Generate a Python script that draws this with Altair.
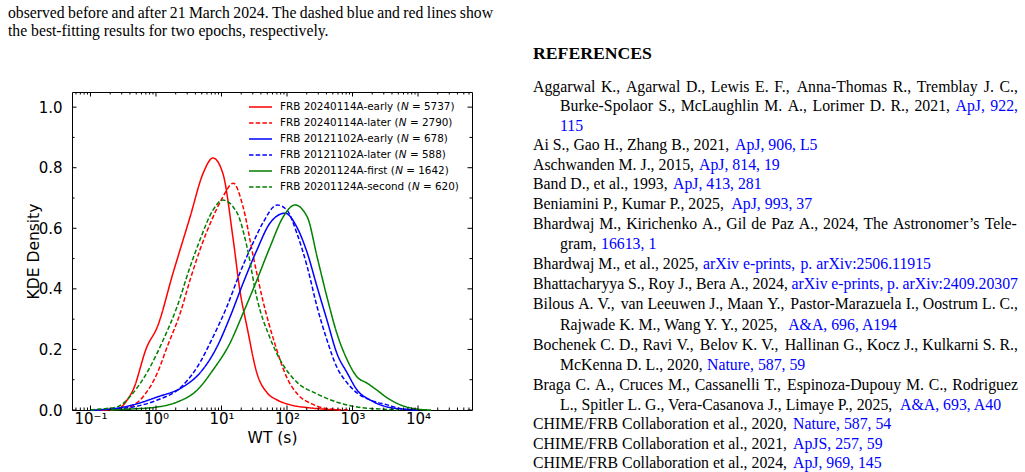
import altair as alt
import pandas as pd

# ---------------------------------------------------------------------------
# Kernel-density curves of burst waiting times, sampled in log10(WT / s)
# ---------------------------------------------------------------------------
SERIES = [
    "FRB 20240114A-early", "FRB 20240114A-later",
    "FRB 20121102A-early", "FRB 20121102A-later",
    "FRB 20201124A-first", "FRB 20201124A-second",
]
COUNTS = [5737, 2790, 678, 588, 1642, 620]

a_early_logwt = [-0.90, -0.70, -0.55, -0.44, -0.35, -0.14, 0.02, 0.26, 0.52, 0.72,
                 0.87, 1.02, 1.18, 1.28, 1.39, 1.54, 1.70, 1.85, 2.05, 2.35, 2.81]
a_early_kde = [0.0, 0.001, 0.007, 0.033, 0.066, 0.208, 0.274, 0.452, 0.637, 0.782,
               0.832, 0.782, 0.561, 0.396, 0.274, 0.122, 0.056, 0.033, 0.017, 0.007, 0.0]

a_later_logwt = [-0.80, -0.55, -0.40, -0.20, 0.02, 0.17, 0.37, 0.52, 0.67, 0.87, 1.02,
                 1.18, 1.33, 1.48, 1.63, 1.82, 2.00, 2.17, 2.38, 2.66, 2.95]
a_later_kde = [0.0, 0.003, 0.010, 0.043, 0.122, 0.208, 0.320, 0.429, 0.528, 0.637, 0.703,
               0.749, 0.670, 0.512, 0.363, 0.215, 0.106, 0.050, 0.020, 0.003, 0.0]

b_early_logwt = [-1.00, -0.70, -0.35, 0.02, 0.41, 0.67, 0.93, 1.13, 1.33, 1.54, 1.74,
                 1.97, 2.15, 2.31, 2.46, 2.61, 2.76, 2.92, 3.07, 3.27, 3.53, 3.77, 4.00]
b_early_kde = [0.0, 0.003, 0.017, 0.043, 0.076, 0.122, 0.208, 0.307, 0.419, 0.528, 0.617,
               0.650, 0.604, 0.518, 0.406, 0.297, 0.188, 0.122, 0.066, 0.033, 0.010, 0.003, 0.0]

b_later_logwt = [-1.00, -0.66, -0.35, 0.02, 0.37, 0.63, 0.87, 1.08, 1.28, 1.48, 1.63, 1.85,
                 2.00, 2.15, 2.31, 2.46, 2.61, 2.76, 2.92, 3.07, 3.27, 3.53, 3.77, 4.00]
b_later_kde = [0.0, 0.003, 0.010, 0.033, 0.073, 0.142, 0.241, 0.340, 0.452, 0.551, 0.617, 0.677,
               0.660, 0.584, 0.472, 0.340, 0.231, 0.142, 0.089, 0.056, 0.033, 0.017, 0.003, 0.0]

c_first_logwt = [-0.70, -0.40, 0.02, 0.32, 0.63, 0.87, 1.13, 1.33, 1.54, 1.74, 1.94, 2.12,
                 2.31, 2.46, 2.61, 2.76, 2.92, 3.07, 3.22, 3.37, 3.53, 3.73, 3.99, 4.20]
c_first_kde = [0.0, 0.003, 0.010, 0.026, 0.066, 0.132, 0.221, 0.320, 0.429, 0.538, 0.637, 0.677,
               0.637, 0.505, 0.373, 0.254, 0.165, 0.109, 0.089, 0.066, 0.040, 0.017, 0.003, 0.0]

c_second_logwt = [-1.00, -0.86, -0.60, -0.35, -0.09, 0.11, 0.32, 0.52, 0.67, 0.87, 1.02,
                  1.24, 1.39, 1.54, 1.74, 1.94, 2.15, 2.46, 2.76, 3.07, 3.42, 3.70]
c_second_kde = [0.0, 0.003, 0.010, 0.056, 0.142, 0.231, 0.340, 0.472, 0.561, 0.660, 0.693,
                0.650, 0.538, 0.370, 0.238, 0.149, 0.092, 0.053, 0.026, 0.010, 0.003, 0.0]

CURVES = [
    (a_early_logwt, a_early_kde), (a_later_logwt, a_later_kde),
    (b_early_logwt, b_early_kde), (b_later_logwt, b_later_kde),
    (c_first_logwt, c_first_kde), (c_second_logwt, c_second_kde),
]

X_TICKS = [0.1, 1, 10, 100, 1000, 10000]
X_TICK_LABELS = ["10⁻¹", "10⁰", "10¹", "10²", "10³", "10⁴"]
Y_TICKS = [0.0, 0.2, 0.4, 0.6, 0.8, 1.0]
Y_MINOR = [0.1, 0.3, 0.5, 0.7, 0.9]

# ---------------------------------------------------------------------------
# Page text around the figure
# ---------------------------------------------------------------------------
CAPTION = [
    "observed before and after 21 March 2024. The dashed blue and red lines show",
    "the best-fitting results for two epochs, respectively.",
]
CAPTION_JUSTIFIED = [True, False]
HEADING = "REFERENCES"
# each line: (plain text, linked text); '|' separates separately anchored link pieces
REF_TEXT = [
    ("Aggarwal K., Agarwal D., Lewis E. F., Anna-Thomas R., Tremblay J. C.,", ""),
    ("Burke-Spolaor S., McLaughlin M. A., Lorimer D. R., 2021,", "ApJ, 922,"),
    ("", "115"),
    ("Ai S., Gao H., Zhang B., 2021,", "ApJ, 906, L5"),
    ("Aschwanden M. J., 2015,", "ApJ, 814, 19"),
    ("Band D., et al., 1993,", "ApJ, 413, 281"),
    ("Beniamini P., Kumar P., 2025,", "ApJ, 993, 37"),
    ("Bhardwaj M., Kirichenko A., Gil de Paz A., 2024, The Astronomer’s Tele-", ""),
    ("gram,", "16613, 1"),
    ("Bhardwaj M., et al., 2025,", "arXiv e-prints,|p. arXiv:2506.11915"),
    ("Bhattacharyya S., Roy J., Bera A., 2024,", "arXiv e-prints, p. arXiv:2409.20307"),
    ("Bilous A. V., van Leeuwen J., Maan Y., Pastor-Marazuela I., Oostrum L. C.,", ""),
    ("Rajwade K. M., Wang Y. Y., 2025,", "A&A, 696, A194"),
    ("Bochenek C. D., Ravi V., Belov K. V., Hallinan G., Kocz J., Kulkarni S. R.,", ""),
    ("McKenna D. L., 2020,", "Nature, 587, 59"),
    ("Braga C. A., Cruces M., Cassanelli T., Espinoza-Dupouy M. C., Rodriguez", ""),
    ("L., Spitler L. G., Vera-Casanova J., Limaye P., 2025,", "A&A, 693, A40"),
    ("CHIME/FRB Collaboration et al., 2020,", "Nature, 587, 54"),
    ("CHIME/FRB Collaboration et al., 2021,", "ApJS, 257, 59"),
    ("CHIME/FRB Collaboration et al., 2024,", "ApJ, 969, 145"),
]
REF_JUSTIFIED = [True, True, False, False, False, False, False, True, False, False,
                 True, True, False, True, False, True, False, False, False, False]
REF_INDENTED = [False, True, True, False, False, False, False, False, True, False,
                False, False, True, False, True, False, True, False, False, False]

# ---------------------------------------------------------------------------
# Layout (pixels)
# ---------------------------------------------------------------------------
PAGE_W, PAGE_H = 1025, 472
OX, OY = 72, 92          # top-left corner of the plot frame on the page
W, H = 400, 318          # plot frame size
X_DOMAIN = [10 ** -1.282, 10 ** 4.824]
Y_DOMAIN = [0, 1.05]

CAP_X, CAP_RIGHT = 8, 493
CAP_BASE = [17.5, 36]
COL_X, INDENT_X, COL_RIGHT = 533, 560, 1018
HEAD_BASE = 59
REF_BASE = [92, 111, 130.5, 150, 169.5, 189, 209, 229, 249, 269, 289, 309,
            329.5, 350, 370, 390, 409.5, 429, 449, 468]
# anchor (x, align) of each linked piece on non-justified lines
LINK_ANCHORS = [
    [], [], [(560, "left")], [(735, "left")], [(699, "left")], [(673, "left")],
    [(729, "left")], [], [(601, "left")], [(703, "left"), (931, "right")],
    [], [], [(784, "left")], [], [(707, "left")], [],
    [(898, "left")], [(793, "left")], [(793, "left")], [(793, "left")],
]

SERIF = "Liberation Serif"
SANS = "DejaVu Sans"
BODY_SIZE = 15.8
CAPTION_SIZE = 15.7
LINK_BLUE = "#0000ff"

COLORS = ["#ff0000", "#ff0000", "#0000ff", "#0000ff", "#008000", "#008000"]
DASHES = [[1, 0], [4.5, 2.2], [1, 0], [4.5, 2.2], [1, 0], [4.5, 2.2]]

# Times-compatible advance widths (per 1000 em), used to justify full lines
SERIF_ADV = dict(zip("ABCDEFGHIJKLMNOPQRSTUVWXYZ",
                     [722, 667, 667, 722, 611, 556, 722, 722, 333, 389, 722, 611, 889,
                      722, 722, 556, 722, 667, 556, 611, 722, 722, 944, 722, 722, 611]))
SERIF_ADV.update(zip("abcdefghijklmnopqrstuvwxyz",
                     [444, 500, 444, 500, 444, 333, 500, 500, 278, 278, 500, 278, 778,
                      500, 500, 500, 500, 333, 389, 278, 500, 500, 722, 500, 500, 444]))
SERIF_ADV.update({" ": 250, ",": 250, ".": 250, "-": 333, "’": 333, "/": 278,
                  "&": 778, ":": 278})
SERIF_ADV.update({d: 500 for d in "0123456789"})


def serif_width(s, size):
    return sum(SERIF_ADV.get(ch, 500) for ch in s) / 1000 * size


def justify(words, x0, x1, size):
    widths = [serif_width(w, size) for w in words]
    gap = (x1 - x0 - sum(widths)) / max(len(words) - 1, 1)
    xs, x = [], x0
    for w in widths:
        xs.append(x)
        x += w + gap
    return xs


# ---------------------------------------------------------------------------
# Data frames
# ---------------------------------------------------------------------------
rows = []
for name, (lx, ky) in zip(SERIES, CURVES):
    for lv, kv in zip(lx, ky):
        rows.append({"series": name, "wt": 10 ** lv, "density": kv})
curve_df = pd.DataFrame(rows)

x_minor = [k * 10.0 ** n for n in range(-2, 5) for k in range(2, 10)
           if X_DOMAIN[0] <= k * 10.0 ** n <= X_DOMAIN[1]]

# ---------------------------------------------------------------------------
# Scales and axes
# ---------------------------------------------------------------------------
x_scale = alt.Scale(type="log", domain=X_DOMAIN, nice=False)
y_scale = alt.Scale(domain=Y_DOMAIN, nice=False, zero=False)

label_expr = f"'{X_TICK_LABELS[-1]}'"
for v, lab in reversed(list(zip(X_TICKS[:-1], X_TICK_LABELS[:-1]))):
    label_expr = f"datum.value < {v * 3} ? '{lab}' : ({label_expr})"

x_axis = alt.Axis(
    values=X_TICKS, labelExpr=label_expr, tickSize=0, domain=False, grid=False,
    labelFont=SANS, labelFontSize=15, labelColor="black", labelPadding=1,
    labelFlush=False, labelOverlap=False, labelBound=False,
    title="WT (s)", titleFont=SANS, titleFontSize=15.5, titleFontWeight="normal",
    titleColor="black", titleBaseline="alphabetic", titleX=W / 2, titleY=32.5,
    titleAlign="center",
)
y_axis = alt.Axis(
    values=Y_TICKS, format=".1f", tickSize=0, domain=False, grid=False,
    labelFont=SANS, labelFontSize=15, labelColor="black", labelPadding=10,
    labelOverlap=False, labelFlush=False,
    title="KDE Density", titleFont=SANS, titleFontSize=15.5, titleFontWeight="normal",
    titleColor="black", titleAngle=270, titleX=33.7 - OX, titleY=H / 2,
    titleAlign="center", titleBaseline="middle",
)

X = alt.X("wt:Q", scale=x_scale, axis=x_axis)
Y = alt.Y("density:Q", scale=y_scale, axis=y_axis)

color_enc = alt.Color("series:N", scale=alt.Scale(domain=SERIES, range=COLORS), legend=None)
dash_enc = alt.StrokeDash("series:N", scale=alt.Scale(domain=SERIES, range=DASHES), legend=None)

curves = alt.Chart(curve_df).mark_line(strokeWidth=1.5, interpolate="monotone").encode(
    x=X, y=Y, color=color_enc, strokeDash=dash_enc,
)

# inward-pointing ticks on all four sides of the frame
MAJOR_LEN, MINOR_LEN = 4.5, 2.5


def x_ticks(values, length, top):
    ys = (alt.value(0), alt.value(length)) if top else (alt.value(H), alt.value(H - length))
    return alt.Chart(pd.DataFrame({"wt": values})).mark_rule(
        color="black", strokeWidth=1).encode(x=X, y=ys[0], y2=ys[1])


def y_ticks(values, length, right):
    xs = (alt.value(W), alt.value(W - length)) if right else (alt.value(0), alt.value(length))
    return alt.Chart(pd.DataFrame({"density": values})).mark_rule(
        color="black", strokeWidth=1).encode(y=Y, x=xs[0], x2=xs[1])


tick_layers = [
    x_ticks(X_TICKS, MAJOR_LEN, False), x_ticks(X_TICKS, MAJOR_LEN, True),
    x_ticks(x_minor, MINOR_LEN, False), x_ticks(x_minor, MINOR_LEN, True),
    y_ticks(Y_TICKS, MAJOR_LEN, False), y_ticks(Y_TICKS, MAJOR_LEN, True),
    y_ticks(Y_MINOR, MINOR_LEN, False), y_ticks(Y_MINOR, MINOR_LEN, True),
]

# ---------------------------------------------------------------------------
# Legend (drawn by hand so that N can be set in italics)
# ---------------------------------------------------------------------------
LEG_FONT = 10.4
LEG_LINE_X = (249 - OX, 272 - OX)
LEG_TEXT_X = 280 - OX
LEG_ROW_Y = [107 - OY + 16 * i for i in range(len(SERIES))]

# DejaVu Sans advance widths (font units per 2048 em)
SANS_ADV = {" ": 651, "(": 799, ")": 799, "-": 739, "=": 1716, "A": 1401, "B": 1405,
            "F": 1178, "N": 1532, "R": 1423, "a": 1255, "c": 1126, "d": 1300, "e": 1260,
            "f": 721, "i": 569, "l": 569, "n": 1298, "o": 1253, "r": 842, "s": 1067,
            "t": 803, "y": 1212}


def sans_width(s, size):
    return sum(SANS_ADV.get(ch, 1303) for ch in s) / 2048 * size


leg_lines, leg_plain, leg_italic = [], [], []
for name, n, ly in zip(SERIES, COUNTS, LEG_ROW_Y):
    prefix = f"{name} ("
    x_n = LEG_TEXT_X + sans_width(prefix, LEG_FONT)
    x_rest = x_n + sans_width("N ", LEG_FONT)
    leg_lines.append({"series": name, "lx": LEG_LINE_X[0], "lx2": LEG_LINE_X[1], "ly": ly})
    leg_plain.append({"t": prefix, "px": LEG_TEXT_X, "py": ly})
    leg_plain.append({"t": f"= {n})", "px": x_rest, "py": ly})
    leg_italic.append({"t": "N", "px": x_n, "py": ly})

legend_lines = alt.Chart(pd.DataFrame(leg_lines)).mark_rule(strokeWidth=1.5).encode(
    x=alt.X("lx:Q", scale=None), x2="lx2:Q", y=alt.Y("ly:Q", scale=None),
    color=color_enc, strokeDash=dash_enc,
)
legend_plain = alt.Chart(pd.DataFrame(leg_plain)).mark_text(
    align="left", baseline="middle", font=SANS, fontSize=LEG_FONT, color="black",
).encode(x=alt.X("px:Q", scale=None), y=alt.Y("py:Q", scale=None), text="t:N")
legend_italic = alt.Chart(pd.DataFrame(leg_italic)).mark_text(
    align="left", baseline="middle", font=SANS, fontSize=LEG_FONT, fontStyle="italic",
    color="black",
).encode(x=alt.X("px:Q", scale=None), y=alt.Y("py:Q", scale=None), text="t:N")

# ---------------------------------------------------------------------------
# Page text: caption fragment, heading and reference list
# ---------------------------------------------------------------------------
runs = {}


def add_run(text, x, y, size, align="left", color="black"):
    runs.setdefault((align, color, size), []).append({"t": text, "px": x - OX, "py": y - OY})


for line, base, just in zip(CAPTION, CAP_BASE, CAPTION_JUSTIFIED):
    if just:
        words = line.split(" ")
        for w, x in zip(words, justify(words, CAP_X, CAP_RIGHT, CAPTION_SIZE)):
            add_run(w, x, base, CAPTION_SIZE)
    else:
        add_run(line, CAP_X, base, CAPTION_SIZE)

for (plain, link), base, just, indented, anchors in zip(
        REF_TEXT, REF_BASE, REF_JUSTIFIED, REF_INDENTED, LINK_ANCHORS):
    x0 = INDENT_X if indented else COL_X
    if just:
        words = [(w, "black") for w in plain.split(" ") if w]
        words += [(w, "blue") for w in link.replace("|", " ").split(" ") if w]
        xs = justify([w for w, _ in words], x0, COL_RIGHT, BODY_SIZE)
        for (w, c), x in zip(words, xs):
            add_run(w, x, base, BODY_SIZE, "left", c)
    else:
        plain_end = x0
        if plain:
            add_run(plain, x0, base, BODY_SIZE)
            plain_end = x0 + serif_width(plain + " ", BODY_SIZE)
        if link:
            for i, (piece, (ax, al)) in enumerate(zip(link.split("|"), anchors)):
                if i == 0 and al == "left":
                    ax = max(ax, plain_end)   # keep a word space after the plain text
                add_run(piece, ax, base, BODY_SIZE, al, "blue")


def page_text(records, align, color, size, weight="normal"):
    return alt.Chart(pd.DataFrame(records)).mark_text(
        align=align, baseline="alphabetic", font=SERIF, fontSize=size,
        fontWeight=weight, color=color,
    ).encode(x=alt.X("px:Q", scale=None), y=alt.Y("py:Q", scale=None), text="t:N")


text_layers = [
    page_text(recs, align, LINK_BLUE if color == "blue" else "black", size)
    for (align, color, size), recs in runs.items()
]
text_layers.append(
    page_text([{"t": HEADING, "px": COL_X - OX, "py": HEAD_BASE - OY}], "left", "black",
              17.7, weight="bold"))

chart = alt.layer(
    curves, *tick_layers, legend_lines, legend_plain, legend_italic, *text_layers,
).properties(
    width=W, height=H,
    autosize=alt.AutoSizeParams(type="none"),
    padding={"left": OX, "top": OY, "right": PAGE_W - OX - W, "bottom": PAGE_H - OY - H},
    background="white",
).configure_view(stroke="black", strokeWidth=1)

chart.save("out.html", embed_options={"renderer": "svg", "actions": False})
